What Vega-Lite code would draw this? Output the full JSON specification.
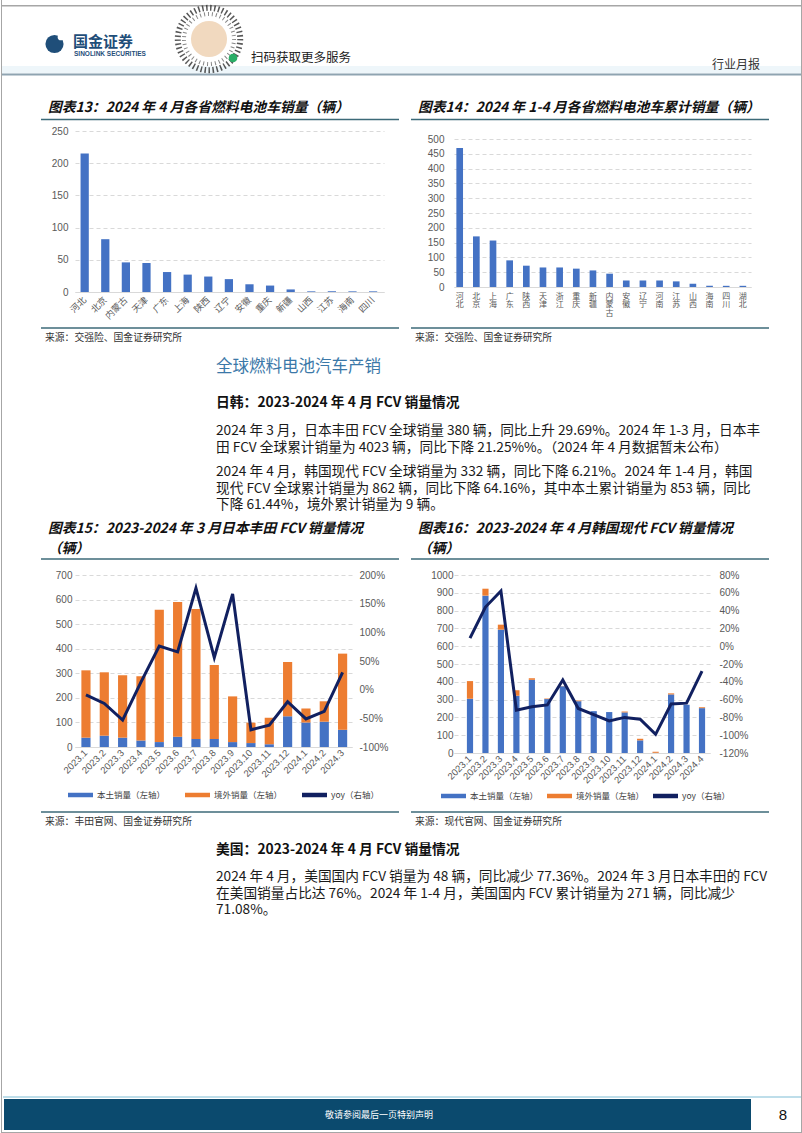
{
  "$schema": "https://vega.github.io/schema/vega-lite/v6.json",
  "padding": {"top": -5, "left": 0, "right": 0, "bottom": 0},
  "background": "white",
  "spacing": 0,
  "bounds": "flush",
  "columns": 5,
  "align": "each",
  "config": {"view": {"stroke": null}, "font": "Noto Sans CJK SC"},
  "resolve": {"scale": {"color": "independent"}, "legend": {"color": "independent"}},
  "concat": [
    {
      "width": 74, "height": 131,
      "data": {"values": [{}]},
      "layer": [
        {"mark": {"type": "rect", "color": "#eef6fa"}, "encoding": {"x": {"value": 1}, "x2": {"value": 800}, "y": {"value": 66}, "y2": {"value": 73.5}}},
        {"mark": {"type": "rule", "color": "#8fa4b1", "strokeWidth": 2}, "encoding": {"x": {"value": 1}, "x2": {"value": 800}, "y": {"value": 74.5}}},
        {"mark": {"type": "rule", "color": "#a6a6a6", "strokeWidth": 1}, "encoding": {"x": {"value": 0.5}, "y": {"value": 0}, "y2": {"value": 131}}},
        {"mark": {"type": "rule", "color": "#a6a6a6", "strokeWidth": 1}, "encoding": {"x": {"value": 800.5}, "y": {"value": 0}, "y2": {"value": 131}}},
        {"mark": {"type": "rule", "color": "#a6a6a6", "strokeWidth": 1.5}, "encoding": {"x": {"value": 0}, "x2": {"value": 801}, "y": {"value": 5.8}}},
        {"mark": {"type": "point", "shape": "circle", "filled": true, "size": 330, "color": "#1f4e79", "opacity": 1}, "encoding": {"x": {"value": 53.5}, "y": {"value": 44}}},
        {"mark": {"type": "point", "shape": "circle", "filled": true, "size": 45, "color": "#ffffff", "opacity": 1}, "encoding": {"x": {"value": 60}, "y": {"value": 37}}},
        {"mark": {"type": "text", "align": "left", "baseline": "middle", "fontSize": 15, "fontWeight": "bold", "color": "#1f4e79", "font": "Noto Sans CJK SC"}, "encoding": {"x": {"value": 72}, "y": {"value": 42}, "text": {"value": "国金证券"}}},
        {"mark": {"type": "text", "align": "left", "baseline": "middle", "fontSize": 6.5, "fontWeight": "bold", "color": "#1f4e79", "font": "Liberation Sans"}, "encoding": {"x": {"value": 73}, "y": {"value": 54}, "text": {"value": "SINOLINK SECURITIES"}}},
        {"mark": {"type": "point", "shape": "circle", "filled": false, "size": 3900, "stroke": "#3a3a3a", "strokeWidth": 6, "strokeDash": [1.5, 2.5], "opacity": 0.85}, "encoding": {"x": {"value": 208}, "y": {"value": 39}}},
        {"mark": {"type": "point", "shape": "circle", "filled": false, "size": 2500, "stroke": "#555555", "strokeWidth": 4, "strokeDash": [1, 3], "opacity": 0.7}, "encoding": {"x": {"value": 208}, "y": {"value": 39}}},
        {"mark": {"type": "point", "shape": "circle", "filled": true, "size": 1300, "color": "#f1d9bf", "opacity": 1}, "encoding": {"x": {"value": 208}, "y": {"value": 39}}},
        {"mark": {"type": "point", "shape": "circle", "filled": true, "size": 75, "color": "#2aae67", "opacity": 1}, "encoding": {"x": {"value": 232}, "y": {"value": 58}}},
        {"mark": {"type": "text", "align": "left", "baseline": "middle", "fontSize": 12.5, "color": "#222222"}, "encoding": {"x": {"value": 250}, "y": {"value": 58}, "text": {"value": "扫码获取更多服务"}}},
        {"mark": {"type": "text", "align": "center", "baseline": "middle", "fontSize": 12, "color": "#333333"}, "encoding": {"x": {"value": 735}, "y": {"value": 65}, "text": {"value": "行业月报"}}},
        {"mark": {"type": "rule", "color": "#3c6a78", "strokeWidth": 1.5}, "encoding": {"x": {"value": 40}, "x2": {"value": 398}, "y": {"value": 119.5}}},
        {"mark": {"type": "rule", "color": "#3c6a78", "strokeWidth": 1.5}, "encoding": {"x": {"value": 410}, "x2": {"value": 768}, "y": {"value": 119.5}}},
        {"mark": {"type": "text", "align": "left", "baseline": "middle", "fontSize": 13.8, "fontWeight": "bold", "fontStyle": "italic", "color": "#111111"}, "encoding": {"x": {"value": 47}, "y": {"value": 108}, "text": {"value": "图表13：2024 年 4 月各省燃料电池车销量（辆）"}}},
        {"mark": {"type": "text", "align": "left", "baseline": "middle", "fontSize": 13.8, "fontWeight": "bold", "fontStyle": "italic", "color": "#111111"}, "encoding": {"x": {"value": 417}, "y": {"value": 108}, "text": {"value": "图表14：2024 年 1-4 月各省燃料电池车累计销量（辆）"}}}
      ]
    },
    {"width": 1, "height": 1, "data": {"values": []}, "mark": "point"},
    {"width": 1, "height": 1, "data": {"values": []}, "mark": "point"},
    {"width": 1, "height": 1, "data": {"values": []}, "mark": "point"},
    {"width": 1, "height": 1, "data": {"values": []}, "mark": "point"},

    {"width": 74, "height": 161, "data": {"values": [{}]}, "mark": {"type": "rule", "color": "#a6a6a6"}, "encoding": {"x": {"value": 0.5}, "y": {"value": 0}, "y2": {"value": 161}}},
    {
      "width": 309, "height": 161,
      "data": {"values": [
        {"province": "河北", "sales": 215}, {"province": "北京", "sales": 82}, {"province": "内蒙古", "sales": 46},
        {"province": "天津", "sales": 45}, {"province": "广东", "sales": 31}, {"province": "上海", "sales": 27},
        {"province": "陕西", "sales": 24}, {"province": "辽宁", "sales": 20}, {"province": "安徽", "sales": 12},
        {"province": "重庆", "sales": 10}, {"province": "新疆", "sales": 4}, {"province": "山西", "sales": 1},
        {"province": "江苏", "sales": 1}, {"province": "海南", "sales": 1}, {"province": "四川", "sales": 1}
      ]},
      "mark": {"type": "bar", "color": "#4472C4"},
      "encoding": {
        "x": {"field": "province", "type": "nominal", "sort": null,
          "scale": {"paddingInner": 0.6, "paddingOuter": 0.3, "align": 0.45},
          "axis": {"title": null, "labelAngle": -45, "labelAlign": "right", "labelBaseline": "middle", "labelPadding": 6, "ticks": false, "domain": true, "domainColor": "#d9d9d9", "labelFont": "Noto Sans CJK SC", "labelFontSize": 9, "labelColor": "#595959"}},
        "y": {"field": "sales", "type": "quantitative", "scale": {"domain": [0, 250], "nice": false},
          "axis": {"title": null, "values": [0, 50, 100, 150, 200, 250], "domain": false, "ticks": false, "gridDash": [4, 3], "gridColor": "#d9d9d9", "labelColor": "#595959", "labelFont": "Liberation Sans", "labelFontSize": 10, "labelPadding": 7}}
      }
    },
    {"width": 70, "height": 1, "data": {"values": []}, "mark": "point"},
    {
      "width": 297, "height": 156,
      "data": {"values": [
        {"province": "河北", "sales": 470}, {"province": "北京", "sales": 171}, {"province": "上海", "sales": 157},
        {"province": "广东", "sales": 90}, {"province": "陕西", "sales": 72}, {"province": "天津", "sales": 66},
        {"province": "浙江", "sales": 66}, {"province": "重庆", "sales": 62}, {"province": "新疆", "sales": 56},
        {"province": "内蒙古", "sales": 45}, {"province": "安徽", "sales": 22}, {"province": "辽宁", "sales": 22},
        {"province": "河南", "sales": 22}, {"province": "江苏", "sales": 19}, {"province": "山西", "sales": 11},
        {"province": "海南", "sales": 4}, {"province": "四川", "sales": 4}, {"province": "湖北", "sales": 4}
      ]},
      "mark": {"type": "bar", "color": "#4472C4"},
      "encoding": {
        "x": {"field": "province", "type": "nominal", "sort": null,
          "scale": {"paddingInner": 0.6, "paddingOuter": 0.215, "align": 0.33},
          "axis": {"title": null, "labelAngle": 0, "labelExpr": "split(datum.label, '')", "labelAlign": "center", "labelBaseline": "top", "labelLineHeight": 8.5, "labelPadding": 5, "ticks": false, "domain": true, "domainColor": "#d9d9d9", "labelFont": "Noto Sans CJK SC", "labelFontSize": 8, "labelColor": "#595959"}},
        "y": {"field": "sales", "type": "quantitative", "scale": {"domain": [0, 527.03], "nice": false},
          "axis": {"title": null, "values": [0, 50, 100, 150, 200, 250, 300, 350, 400, 450, 500], "domain": false, "ticks": false, "gridDash": [4, 3], "gridColor": "#d9d9d9", "labelColor": "#595959", "labelFont": "Liberation Sans", "labelFontSize": 10, "labelPadding": 10}}
      }
    },
    {"width": 52, "height": 161, "data": {"values": [{}]}, "mark": {"type": "rule", "color": "#a6a6a6"}, "encoding": {"x": {"value": 50.5}, "y": {"value": 0}, "y2": {"value": 161}}},

    {
      "width": 74, "height": 283,
      "data": {"values": [{}]},
      "layer": [
        {"mark": {"type": "rule", "color": "#a6a6a6", "strokeWidth": 1}, "encoding": {"x": {"value": 0.5}, "y": {"value": 0}, "y2": {"value": 283}}},
        {"mark": {"type": "rule", "color": "#a6a6a6", "strokeWidth": 1}, "encoding": {"x": {"value": 800.5}, "y": {"value": 0}, "y2": {"value": 283}}},
        {"mark": {"type": "rule", "color": "#3c6a78", "strokeWidth": 1.5}, "encoding": {"x": {"value": 40}, "x2": {"value": 398}, "y": {"value": 36}}},
        {"mark": {"type": "rule", "color": "#3c6a78", "strokeWidth": 1.5}, "encoding": {"x": {"value": 410}, "x2": {"value": 768}, "y": {"value": 36}}},
        {"mark": {"type": "text", "align": "left", "baseline": "middle", "fontSize": 9.8, "color": "#333333"}, "encoding": {"x": {"value": 44}, "y": {"value": 46}, "text": {"value": "来源：交强险、国金证券研究所"}}},
        {"mark": {"type": "text", "align": "left", "baseline": "middle", "fontSize": 9.8, "color": "#333333"}, "encoding": {"x": {"value": 414}, "y": {"value": 46}, "text": {"value": "来源：交强险、国金证券研究所"}}},
        {"mark": {"type": "text", "align": "left", "baseline": "middle", "fontSize": 16.5, "color": "#3b78a8"}, "encoding": {"x": {"value": 215}, "y": {"value": 75}, "text": {"value": "全球燃料电池汽车产销"}}},
        {"mark": {"type": "text", "align": "left", "baseline": "middle", "fontSize": 13.8, "fontWeight": "bold", "color": "#111111"}, "encoding": {"x": {"value": 215}, "y": {"value": 111}, "text": {"value": "日韩：2023-2024 年 4 月 FCV 销量情况"}}},
        {"mark": {"type": "text", "align": "left", "baseline": "alphabetic", "fontSize": 13.7, "lineHeight": 16.5, "color": "#1a1a1a"}, "encoding": {"x": {"value": 215}, "y": {"value": 143}, "text": {"value": ["2024 年 3 月，日本丰田 FCV 全球销量 380 辆，同比上升 29.69%。2024 年 1-3 月，日本丰", "田 FCV 全球累计销量为 4023 辆，同比下降 21.25%%。（2024 年 4 月数据暂未公布）"]}}},
        {"mark": {"type": "text", "align": "left", "baseline": "alphabetic", "fontSize": 13.7, "lineHeight": 16.5, "color": "#1a1a1a"}, "encoding": {"x": {"value": 215}, "y": {"value": 184}, "text": {"value": ["2024 年 4 月，韩国现代 FCV 全球销量为 332 辆，同比下降 6.21%。2024 年 1-4 月，韩国", "现代 FCV 全球累计销量为 862 辆，同比下降 64.16%，其中本土累计销量为 853 辆，同比", "下降 61.44%，境外累计销量为 9 辆。"]}}},
        {"mark": {"type": "text", "align": "left", "baseline": "alphabetic", "fontSize": 13.8, "lineHeight": 20, "fontWeight": "bold", "fontStyle": "italic", "color": "#111111"}, "encoding": {"x": {"value": 47}, "y": {"value": 241}, "text": {"value": ["图表15：2023-2024 年 3 月日本丰田 FCV 销量情况", "（辆）"]}}},
        {"mark": {"type": "text", "align": "left", "baseline": "alphabetic", "fontSize": 13.8, "lineHeight": 20, "fontWeight": "bold", "fontStyle": "italic", "color": "#111111"}, "encoding": {"x": {"value": 417}, "y": {"value": 241}, "text": {"value": ["图表16：2023-2024 年 4 月韩国现代 FCV 销量情况", "（辆）"]}}},
        {"mark": {"type": "rule", "color": "#3c6a78", "strokeWidth": 1.5}, "encoding": {"x": {"value": 40}, "x2": {"value": 398}, "y": {"value": 267}}},
        {"mark": {"type": "rule", "color": "#3c6a78", "strokeWidth": 1.5}, "encoding": {"x": {"value": 410}, "x2": {"value": 768}, "y": {"value": 267}}}
      ]
    },
    {"width": 1, "height": 1, "data": {"values": []}, "mark": "point"},
    {"width": 1, "height": 1, "data": {"values": []}, "mark": "point"},
    {"width": 1, "height": 1, "data": {"values": []}, "mark": "point"},
    {"width": 1, "height": 1, "data": {"values": []}, "mark": "point"},

    {"width": 74, "height": 178, "data": {"values": [{}]}, "mark": {"type": "rule", "color": "#a6a6a6"}, "encoding": {"x": {"value": 0.5}, "y": {"value": 0}, "y2": {"value": 178}}},
    {
      "width": 277, "height": 172,
      "layer": [
        {
          "data": {"values": [
            {"month": "2023.1", "type": "本土销量（左轴）", "sales": 38}, {"month": "2023.1", "type": "境外销量（左轴）", "sales": 274},
            {"month": "2023.2", "type": "本土销量（左轴）", "sales": 46}, {"month": "2023.2", "type": "境外销量（左轴）", "sales": 258},
            {"month": "2023.3", "type": "本土销量（左轴）", "sales": 38}, {"month": "2023.3", "type": "境外销量（左轴）", "sales": 254},
            {"month": "2023.4", "type": "本土销量（左轴）", "sales": 26}, {"month": "2023.4", "type": "境外销量（左轴）", "sales": 262},
            {"month": "2023.5", "type": "本土销量（左轴）", "sales": 20}, {"month": "2023.5", "type": "境外销量（左轴）", "sales": 539},
            {"month": "2023.6", "type": "本土销量（左轴）", "sales": 42}, {"month": "2023.6", "type": "境外销量（左轴）", "sales": 548},
            {"month": "2023.7", "type": "本土销量（左轴）", "sales": 33}, {"month": "2023.7", "type": "境外销量（左轴）", "sales": 529},
            {"month": "2023.8", "type": "本土销量（左轴）", "sales": 33}, {"month": "2023.8", "type": "境外销量（左轴）", "sales": 301},
            {"month": "2023.9", "type": "本土销量（左轴）", "sales": 20}, {"month": "2023.9", "type": "境外销量（左轴）", "sales": 186},
            {"month": "2023.10", "type": "本土销量（左轴）", "sales": 16}, {"month": "2023.10", "type": "境外销量（左轴）", "sales": 83},
            {"month": "2023.11", "type": "本土销量（左轴）", "sales": 11}, {"month": "2023.11", "type": "境外销量（左轴）", "sales": 108},
            {"month": "2023.12", "type": "本土销量（左轴）", "sales": 125}, {"month": "2023.12", "type": "境外销量（左轴）", "sales": 221},
            {"month": "2024.1", "type": "本土销量（左轴）", "sales": 100}, {"month": "2024.1", "type": "境外销量（左轴）", "sales": 57},
            {"month": "2024.2", "type": "本土销量（左轴）", "sales": 103}, {"month": "2024.2", "type": "境外销量（左轴）", "sales": 83},
            {"month": "2024.3", "type": "本土销量（左轴）", "sales": 70}, {"month": "2024.3", "type": "境外销量（左轴）", "sales": 310}
          ]},
          "mark": {"type": "bar"},
          "encoding": {
            "x": {"field": "month", "type": "nominal", "sort": null,
              "scale": {"paddingInner": 0.5, "paddingOuter": 0.305, "align": 0.57},
              "axis": {"title": null, "labelAngle": -45, "labelAlign": "right", "labelBaseline": "middle", "labelPadding": 4, "ticks": false, "domain": true, "domainColor": "#d9d9d9", "labelFont": "Liberation Sans", "labelFontSize": 9.5, "labelColor": "#595959"}},
            "y": {"field": "sales", "type": "quantitative", "stack": "zero", "scale": {"domain": [0, 700], "nice": false},
              "axis": {"title": null, "orient": "left", "values": [0, 100, 200, 300, 400, 500, 600, 700], "domain": false, "ticks": false, "gridDash": [4, 3], "gridColor": "#d9d9d9", "labelColor": "#595959", "labelFont": "Liberation Sans", "labelFontSize": 10, "labelPadding": 3}},
            "color": {"field": "type", "type": "nominal",
              "scale": {"domain": ["本土销量（左轴）", "境外销量（左轴）", "yoy（右轴）"], "range": ["#4472C4", "#ED7D31", "#112060"]},
              "legend": {"orient": "none", "legendX": -7, "legendY": 207.5, "direction": "horizontal", "title": null, "symbolType": "M-1,-0.18H1V0.18H-1Z", "symbolSize": 625, "symbolStrokeWidth": 0, "labelFontSize": 8.5, "labelFont": "Noto Sans CJK SC", "labelColor": "#404040", "columnPadding": 19, "labelOffset": 4}},
            "order": {"field": "type", "sort": "descending"}
          }
        },
        {
          "data": {"values": [
            {"month": "2023.1", "yoy": -9}, {"month": "2023.2", "yoy": -24}, {"month": "2023.3", "yoy": -53},
            {"month": "2023.4", "yoy": 13}, {"month": "2023.5", "yoy": 76}, {"month": "2023.6", "yoy": 66},
            {"month": "2023.7", "yoy": 177}, {"month": "2023.8", "yoy": 56}, {"month": "2023.9", "yoy": 167},
            {"month": "2023.10", "yoy": -70}, {"month": "2023.11", "yoy": -62}, {"month": "2023.12", "yoy": -21},
            {"month": "2024.1", "yoy": -51}, {"month": "2024.2", "yoy": -38}, {"month": "2024.3", "yoy": 30}
          ]},
          "mark": {"type": "line", "strokeWidth": 3, "strokeJoin": "miter"},
          "encoding": {
            "x": {"field": "month", "type": "nominal", "sort": null},
            "y": {"field": "yoy", "type": "quantitative", "scale": {"domain": [-100, 200], "nice": false},
              "axis": {"title": null, "orient": "right", "values": [-100, -50, 0, 50, 100, 150, 200], "labelExpr": "datum.value + '%'", "grid": false, "domain": false, "ticks": false, "labelColor": "#595959", "labelFont": "Liberation Sans", "labelFontSize": 10, "labelPadding": 7}},
            "color": {"datum": "yoy（右轴）", "type": "nominal",
              "scale": {"domain": ["本土销量（左轴）", "境外销量（左轴）", "yoy（右轴）"], "range": ["#4472C4", "#ED7D31", "#112060"]}}
          }
        }
      ],
      "resolve": {"scale": {"y": "independent"}}
    },
    {"width": 70, "height": 1, "data": {"values": []}, "mark": "point"},
    {
      "width": 256, "height": 178,
      "layer": [
        {
          "data": {"values": [
            {"month": "2023.1", "type": "本土销量（左轴）", "sales": 305}, {"month": "2023.1", "type": "境外销量（左轴）", "sales": 99},
            {"month": "2023.2", "type": "本土销量（左轴）", "sales": 884}, {"month": "2023.2", "type": "境外销量（左轴）", "sales": 39},
            {"month": "2023.3", "type": "本土销量（左轴）", "sales": 693}, {"month": "2023.3", "type": "境外销量（左轴）", "sales": 28},
            {"month": "2023.4", "type": "本土销量（左轴）", "sales": 321}, {"month": "2023.4", "type": "境外销量（左轴）", "sales": 32},
            {"month": "2023.5", "type": "本土销量（左轴）", "sales": 411}, {"month": "2023.5", "type": "境外销量（左轴）", "sales": 9},
            {"month": "2023.6", "type": "本土销量（左轴）", "sales": 303}, {"month": "2023.6", "type": "境外销量（左轴）", "sales": 3},
            {"month": "2023.7", "type": "本土销量（左轴）", "sales": 375}, {"month": "2023.7", "type": "境外销量（左轴）", "sales": 1},
            {"month": "2023.8", "type": "本土销量（左轴）", "sales": 291}, {"month": "2023.8", "type": "境外销量（左轴）", "sales": 4},
            {"month": "2023.9", "type": "本土销量（左轴）", "sales": 235}, {"month": "2023.9", "type": "境外销量（左轴）", "sales": 0},
            {"month": "2023.10", "type": "本土销量（左轴）", "sales": 230}, {"month": "2023.10", "type": "境外销量（左轴）", "sales": 0},
            {"month": "2023.11", "type": "本土销量（左轴）", "sales": 228}, {"month": "2023.11", "type": "境外销量（左轴）", "sales": 5},
            {"month": "2023.12", "type": "本土销量（左轴）", "sales": 71}, {"month": "2023.12", "type": "境外销量（左轴）", "sales": 9},
            {"month": "2024.1", "type": "本土销量（左轴）", "sales": 1}, {"month": "2024.1", "type": "境外销量（左轴）", "sales": 6},
            {"month": "2024.2", "type": "本土销量（左轴）", "sales": 329}, {"month": "2024.2", "type": "境外销量（左轴）", "sales": 6},
            {"month": "2024.3", "type": "本土销量（左轴）", "sales": 271}, {"month": "2024.3", "type": "境外销量（左轴）", "sales": 0},
            {"month": "2024.4", "type": "本土销量（左轴）", "sales": 252}, {"month": "2024.4", "type": "境外销量（左轴）", "sales": 5}
          ]},
          "mark": {"type": "bar"},
          "encoding": {
            "x": {"field": "month", "type": "nominal", "sort": null,
              "scale": {"paddingInner": 0.6, "paddingOuter": 0.575, "align": 0.725},
              "axis": {"title": null, "labelAngle": -45, "labelAlign": "right", "labelBaseline": "middle", "labelPadding": 4, "ticks": false, "domain": true, "domainColor": "#d9d9d9", "labelFont": "Liberation Sans", "labelFontSize": 9.5, "labelColor": "#595959"}},
            "y": {"field": "sales", "type": "quantitative", "stack": "zero", "scale": {"domain": [0, 1000], "nice": false},
              "axis": {"title": null, "orient": "left", "format": "d", "values": [0, 100, 200, 300, 400, 500, 600, 700, 800, 900, 1000], "domain": false, "ticks": false, "gridDash": [4, 3], "gridColor": "#d9d9d9", "labelColor": "#595959", "labelFont": "Liberation Sans", "labelFontSize": 10, "labelPadding": 1}},
            "color": {"field": "type", "type": "nominal",
              "scale": {"domain": ["本土销量（左轴）", "境外销量（左轴）", "yoy（右轴）"], "range": ["#4472C4", "#ED7D31", "#112060"]},
              "legend": {"orient": "none", "legendX": -13, "legendY": 208.5, "direction": "horizontal", "title": null, "symbolType": "M-1,-0.18H1V0.18H-1Z", "symbolSize": 625, "symbolStrokeWidth": 0, "labelFontSize": 8.5, "labelFont": "Noto Sans CJK SC", "labelColor": "#404040", "columnPadding": 8, "labelOffset": 4}},
            "order": {"field": "type", "sort": "descending"}
          }
        },
        {
          "data": {"values": [
            {"month": "2023.1", "yoy": 9}, {"month": "2023.2", "yoy": 44}, {"month": "2023.3", "yoy": 62},
            {"month": "2023.4", "yoy": -72}, {"month": "2023.5", "yoy": -68}, {"month": "2023.6", "yoy": -66},
            {"month": "2023.7", "yoy": -38}, {"month": "2023.8", "yoy": -70}, {"month": "2023.9", "yoy": -77},
            {"month": "2023.10", "yoy": -84}, {"month": "2023.11", "yoy": -80}, {"month": "2023.12", "yoy": -82},
            {"month": "2024.1", "yoy": -99}, {"month": "2024.2", "yoy": -65}, {"month": "2024.3", "yoy": -64},
            {"month": "2024.4", "yoy": -28}
          ]},
          "mark": {"type": "line", "strokeWidth": 3, "strokeJoin": "miter"},
          "encoding": {
            "x": {"field": "month", "type": "nominal", "sort": null},
            "y": {"field": "yoy", "type": "quantitative", "scale": {"domain": [-120, 80], "nice": false},
              "axis": {"title": null, "orient": "right", "values": [-120, -100, -80, -60, -40, -20, 0, 20, 40, 60, 80], "labelExpr": "datum.value + '%'", "grid": false, "domain": false, "ticks": false, "labelColor": "#595959", "labelFont": "Liberation Sans", "labelFontSize": 10, "labelPadding": 9}},
            "color": {"datum": "yoy（右轴）", "type": "nominal",
              "scale": {"domain": ["本土销量（左轴）", "境外销量（左轴）", "yoy（右轴）"], "range": ["#4472C4", "#ED7D31", "#112060"]}}
          }
        }
      ],
      "resolve": {"scale": {"y": "independent"}}
    },
    {"width": 52, "height": 178, "data": {"values": [{}]}, "mark": {"type": "rule", "color": "#a6a6a6"}, "encoding": {"x": {"value": 50.5}, "y": {"value": 0}, "y2": {"value": 178}}},

    {
      "width": 74, "height": 380,
      "data": {"values": [{}]},
      "layer": [
        {"mark": {"type": "rule", "color": "#a6a6a6", "strokeWidth": 1}, "encoding": {"x": {"value": 0.5}, "y": {"value": 0}, "y2": {"value": 380}}},
        {"mark": {"type": "rule", "color": "#a6a6a6", "strokeWidth": 1}, "encoding": {"x": {"value": 800.5}, "y": {"value": 0}, "y2": {"value": 380}}},
        {"mark": {"type": "rule", "color": "#a6a6a6", "strokeWidth": 1}, "encoding": {"x": {"value": 0}, "x2": {"value": 801}, "y": {"value": 379.5}}},
        {"mark": {"type": "rule", "color": "#3c6a78", "strokeWidth": 1.5}, "encoding": {"x": {"value": 40}, "x2": {"value": 398}, "y": {"value": 59}}},
        {"mark": {"type": "rule", "color": "#3c6a78", "strokeWidth": 1.5}, "encoding": {"x": {"value": 410}, "x2": {"value": 768}, "y": {"value": 59}}},
        {"mark": {"type": "text", "align": "left", "baseline": "middle", "fontSize": 9.8, "color": "#333333"}, "encoding": {"x": {"value": 44}, "y": {"value": 69}, "text": {"value": "来源：丰田官网、国金证券研究所"}}},
        {"mark": {"type": "text", "align": "left", "baseline": "middle", "fontSize": 9.8, "color": "#333333"}, "encoding": {"x": {"value": 414}, "y": {"value": 69}, "text": {"value": "来源：现代官网、国金证券研究所"}}},
        {"mark": {"type": "text", "align": "left", "baseline": "middle", "fontSize": 13.8, "fontWeight": "bold", "color": "#111111"}, "encoding": {"x": {"value": 215}, "y": {"value": 97}, "text": {"value": "美国：2023-2024 年 4 月 FCV 销量情况"}}},
        {"mark": {"type": "text", "align": "left", "baseline": "alphabetic", "fontSize": 13.7, "lineHeight": 16.5, "color": "#1a1a1a"}, "encoding": {"x": {"value": 215}, "y": {"value": 128}, "text": {"value": ["2024 年 4 月，美国国内 FCV 销量为 48 辆，同比减少 77.36%。2024 年 3 月日本丰田的 FCV", "在美国销量占比达 76%。2024 年 1-4 月，美国国内 FCV 累计销量为 271 辆，同比减少", "71.08%。"]}}},
        {"mark": {"type": "rule", "color": "#a9d3e3", "strokeWidth": 1.5}, "encoding": {"x": {"value": 2}, "x2": {"value": 800}, "y": {"value": 344}}},
        {"mark": {"type": "rect", "color": "#0b4a6e"}, "encoding": {"x": {"value": 3}, "x2": {"value": 750}, "y": {"value": 346}, "y2": {"value": 377}}},
        {"mark": {"type": "text", "align": "center", "baseline": "middle", "fontSize": 9, "color": "#ffffff"}, "encoding": {"x": {"value": 378}, "y": {"value": 361.5}, "text": {"value": "敬请参阅最后一页特别声明"}}},
        {"mark": {"type": "text", "align": "center", "baseline": "middle", "fontSize": 15, "color": "#111111", "font": "Liberation Sans"}, "encoding": {"x": {"value": 782}, "y": {"value": 361.5}, "text": {"value": "8"}}}
      ]
    },
    {"width": 1, "height": 1, "data": {"values": []}, "mark": "point"},
    {"width": 1, "height": 1, "data": {"values": []}, "mark": "point"},
    {"width": 1, "height": 1, "data": {"values": []}, "mark": "point"},
    {"width": 1, "height": 1, "data": {"values": []}, "mark": "point"}
  ]
}
